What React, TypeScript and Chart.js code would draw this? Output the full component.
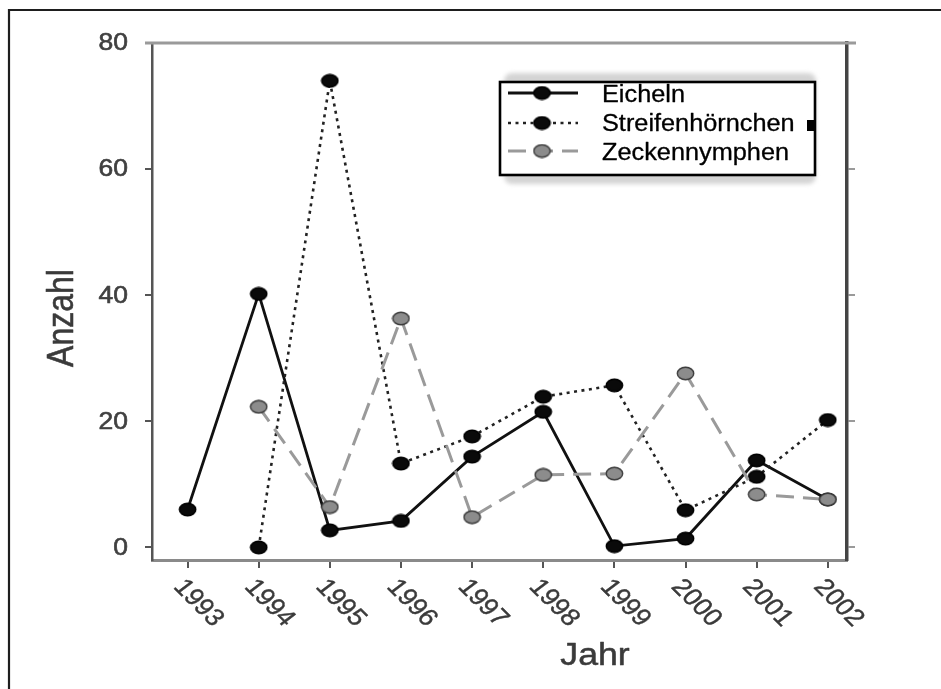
import React, { useEffect, useRef } from "react";
import { Chart, registerables } from "chart.js";

Chart.register(...registerables);

// ---- data ----
const years = [1993, 1994, 1995, 1996, 1997, 1998, 1999, 2000, 2001, 2002];
const eicheln = [6.0, 40.2, 2.7, 4.2, 14.4, 21.5, 0.2, 1.4, 13.8, 7.6];
const streifenhoernchen = [null, 0, 74.0, 13.3, 17.6, 23.9, 25.7, 5.9, 11.2, 20.2];
const zeckennymphen = [null, 22.3, 6.4, 36.3, 4.8, 11.5, 11.7, 27.6, 8.4, 7.6];
const yTicks = [0, 20, 40, 60, 80];
const seriesNames = ["Eicheln", "Streifenhörnchen", "Zeckennymphen"];
const xTitle = "Jahr";
const yTitle = "Anzahl";

const SX = 1.15; // horizontal stretch of the source picture's text
const FONT = "'Liberation Sans', Arial, Helvetica, sans-serif";

function makeDot(fill: string, stroke: string) {
  const c = document.createElement("canvas");
  c.width = 19;
  c.height = 15;
  const g = c.getContext("2d")!;
  g.beginPath();
  g.ellipse(9.5, 7.5, 8.2, 6.2, 0, 0, Math.PI * 2);
  g.fillStyle = fill;
  g.fill();
  g.lineWidth = 1.4;
  g.strokeStyle = stroke;
  g.stroke();
  return c;
}

function boldText(ctx: CanvasRenderingContext2D, text: string, w: number) {
  ctx.lineWidth = w;
  ctx.strokeStyle = ctx.fillStyle as string;
  ctx.lineJoin = "round";
  ctx.strokeText(text, 0, 0);
  ctx.fillText(text, 0, 0);
}

export default function App() {
  const ref = useRef<HTMLCanvasElement | null>(null);

  useEffect(() => {
    const canvas = ref.current;
    if (!canvas) return;
    const dotBlack = makeDot("#0a0a0a", "#000");
    const dotBlack2 = makeDot("#0a0a0a", "#000");
    const dotGray = makeDot("#8c8c8c", "#3a3a3a");

    const toPts = (arr: (number | null)[]) => years.map((yr, i) => ({ x: yr, y: arr[i] }));

    const decor = {
      id: "decor",
      beforeDraw(chart: any) {
        const ctx = chart.ctx as CanvasRenderingContext2D;
        ctx.save();
        ctx.fillStyle = "#fff";
        ctx.fillRect(0, 0, chart.width, chart.height);
        ctx.strokeStyle = "#1e1e1e";
        ctx.lineWidth = 2.2;
        ctx.beginPath();
        ctx.moveTo(9, chart.height);
        ctx.lineTo(9, 10);
        ctx.lineTo(chart.width, 10);
        ctx.stroke();
        ctx.restore();
      },
      afterDraw(chart: any) {
        const ctx = chart.ctx as CanvasRenderingContext2D;
        const area = chart.chartArea;
        const xs = chart.scales.x;
        const ys = chart.scales.y;
        ctx.save();
        // top frame line
        ctx.strokeStyle = "#9a9a9a";
        ctx.lineWidth = 3;
        ctx.beginPath();
        ctx.moveTo(area.left - 7, area.top);
        ctx.lineTo(area.right + 9, area.top);
        ctx.stroke();

        // y tick labels
        ctx.fillStyle = "#404040";
        ctx.font = `23px ${FONT}`;
        ctx.textAlign = "right";
        ctx.textBaseline = "middle";
        yTicks.forEach((v) => {
          const py = ys.getPixelForValue(v);
          ctx.save();
          ctx.translate(128, py + 1);
          ctx.scale(SX, 1);
          boldText(ctx, String(v), 0.6);
          ctx.restore();
        });

        // x tick labels (rotated, reading downwards)
        ctx.fillStyle = "#3a3a3a";
        ctx.font = `24px ${FONT}`;
        ctx.textAlign = "left";
        ctx.textBaseline = "top";
        years.forEach((yr) => {
          const px = xs.getPixelForValue(yr);
          ctx.save();
          ctx.translate(px + 1, 575);
          ctx.scale(SX, 1);
          ctx.rotate((49 * Math.PI) / 180);
          boldText(ctx, String(yr), 0.4);
          ctx.restore();
        });

        // axis titles
        ctx.fillStyle = "#3a3a3a";
        ctx.font = `31px ${FONT}`;
        ctx.textAlign = "center";
        ctx.textBaseline = "alphabetic";
        ctx.save();
        ctx.translate(595, 665);
        ctx.scale(SX, 1);
        boldText(ctx, xTitle, 0.5);
        ctx.restore();

        ctx.save();
        ctx.font = `32px ${FONT}`;
        ctx.textBaseline = "middle";
        ctx.translate(63, 318);
        ctx.scale(SX, 1);
        ctx.rotate(-Math.PI / 2);
        boldText(ctx, yTitle, 0.5);
        ctx.restore();

        // legend
        ctx.save();
        ctx.filter = "blur(2px)";
        ctx.fillStyle = "#d4d4d4";
        ctx.beginPath();
        (ctx as any).roundRect(504, 73, 312, 111, 8);
        ctx.fill();
        ctx.restore();
        ctx.fillStyle = "#fff";
        ctx.fillRect(500, 82, 315, 93);
        ctx.strokeStyle = "#000";
        ctx.lineWidth = 2.6;
        ctx.strokeRect(500, 82, 315, 93);
        ctx.fillStyle = "#000";
        ctx.fillRect(807, 120, 8, 11);

        const rows = [93, 123, 151];
        const baselines = [102, 131, 160];
        chart.data.datasets.forEach((ds: any, i: number) => {
          const cy = rows[i];
          ctx.save();
          ctx.strokeStyle = ds.borderColor;
          ctx.lineWidth = ds.borderWidth;
          ctx.setLineDash(ds.borderDash || []);
          ctx.beginPath();
          ctx.moveTo(508, cy);
          ctx.lineTo(578, cy);
          ctx.stroke();
          ctx.restore();
          const img = ds.pointStyle as HTMLCanvasElement;
          ctx.drawImage(img, 542 - img.width / 2, cy - img.height / 2);
          ctx.save();
          ctx.fillStyle = "#000";
          ctx.font = `23px ${FONT}`;
          ctx.textAlign = "left";
          ctx.textBaseline = "alphabetic";
          ctx.translate(602, baselines[i]);
          ctx.scale(1.1, 1);
          boldText(ctx, ds.label, 0.3);
          ctx.restore();
        });
        ctx.restore();
      },
    };

    const chart = new Chart(canvas, {
      type: "line",
      data: {
        datasets: [
          {
            label: seriesNames[0],
            data: toPts(eicheln),
            borderColor: "#111",
            borderWidth: 2.8,
            pointStyle: dotBlack as any,
            pointRadius: 7,
            borderDash: [],
            order: 2,
          },
          {
            label: seriesNames[1],
            data: toPts(streifenhoernchen),
            borderColor: "#222",
            borderWidth: 2.6,
            borderDash: [3, 4.5],
            pointStyle: dotBlack2 as any,
            pointRadius: 7,
            order: 1,
          },
          {
            label: seriesNames[2],
            data: toPts(zeckennymphen),
            borderColor: "#9a9a9a",
            borderWidth: 3,
            borderDash: [18, 9],
            pointStyle: dotGray as any,
            pointRadius: 7,
            order: 0,
          },
        ],
      },
      options: {
        animation: false,
        responsive: false,
        devicePixelRatio: 1,
        layout: { padding: { left: 0, top: 43, right: 94, bottom: 0 } },
        plugins: { legend: { display: false }, tooltip: { enabled: false }, title: { display: false } },
        elements: { line: { tension: 0, fill: false } },
        scales: {
          x: {
            type: "linear",
            position: "bottom",
            min: 1992.5,
            max: 2002.27,
            afterBuildTicks: (s: any) => {
              s.ticks = years.map((v) => ({ value: v }));
            },
            afterFit: (s: any) => {
              s.height = 129;
            },
            ticks: { display: false },
            grid: { display: true, drawOnChartArea: false, drawTicks: true, tickLength: 8, color: "#555", lineWidth: 2 },
            border: { display: true, color: "#8a8a8a", width: 3 },
          },
          y: {
            type: "linear",
            position: "left",
            min: -2,
            max: 80,
            afterBuildTicks: (s: any) => {
              s.ticks = yTicks.map((v) => ({ value: v }));
            },
            afterFit: (s: any) => {
              s.width = 152;
            },
            ticks: { display: false },
            grid: { display: true, drawOnChartArea: false, drawTicks: true, tickLength: 7, color: "#555", lineWidth: 2 },
            border: { display: true, color: "#555", width: 2.5 },
          },
          y2: {
            type: "linear",
            position: "right",
            min: -2,
            max: 80,
            afterBuildTicks: (s: any) => {
              s.ticks = yTicks.map((v) => ({ value: v }));
            },
            afterFit: (s: any) => {
              s.width = 0;
            },
            ticks: { display: false },
            grid: { display: true, drawOnChartArea: false, drawTicks: true, tickLength: 8, color: "#9a9a9a", lineWidth: 2 },
            border: { display: true, color: "#444", width: 3.5 },
          },
        },
      },
      plugins: [decor],
    });

    return () => chart.destroy();
  }, []);

  return (
    <div style={{ position: "fixed", left: 0, top: 0, width: 941, height: 689, background: "#fff" }}>
      <canvas ref={ref} width={941} height={689} style={{ width: 941, height: 689, display: "block" }} />
    </div>
  );
}
